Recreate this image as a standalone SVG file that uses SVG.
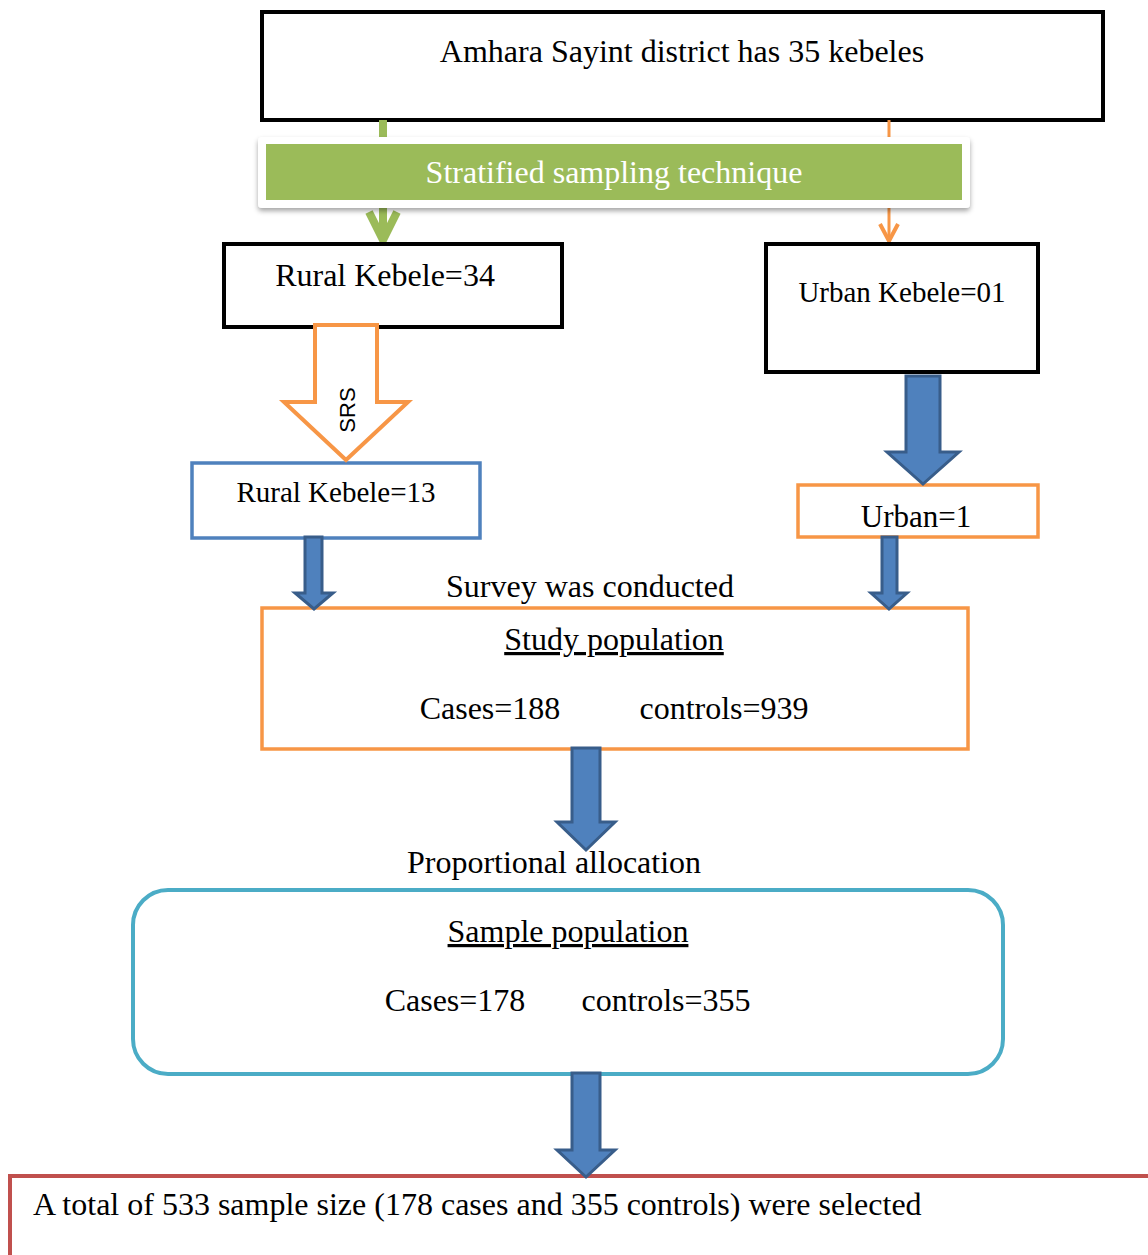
<svg xmlns="http://www.w3.org/2000/svg" width="1148" height="1255" viewBox="0 0 1148 1255">
<style>
text{font-family:"Liberation Serif","Times New Roman",serif;font-size:32px;fill:#000}
.c{text-anchor:middle}
.blk{fill:#fff;stroke:#000;stroke-width:4}
.barrow{fill:#4F81BD;stroke:#385D8A;stroke-width:3;stroke-linejoin:miter}
</style>
<defs>
<filter id="sh" x="-5%" y="-20%" width="110%" height="150%">
<feDropShadow dx="0" dy="3" stdDeviation="2.5" flood-color="#000" flood-opacity="0.35"/>
</filter>
</defs>
<rect width="1148" height="1255" fill="#fff"/>
<g id="top">
<rect class="blk" x="262" y="12" width="841" height="108"/>
<text class="c" x="682" y="62">Amhara Sayint district has 35 kebeles</text>
</g>
<g id="green-line">
<line x1="383" y1="120" x2="383" y2="238" stroke="#9BBB59" stroke-width="8"/>
<polyline points="369,212 383,240 397,212" fill="none" stroke="#9BBB59" stroke-width="8"/>
<line x1="889" y1="120" x2="889" y2="240" stroke="#F79646" stroke-width="3"/>
<polyline points="880,224 889,241 898,224" fill="none" stroke="#F79646" stroke-width="4"/>
</g>
<g id="stratified">
<rect x="258" y="137" width="712" height="71" rx="4" fill="#fff" filter="url(#sh)"/>
<rect x="266" y="144" width="696" height="56" fill="#9BBB59"/>
<text class="c" x="614" y="183" style="fill:#fff">Stratified sampling technique</text>
</g>
<g id="rural34">
<rect class="blk" x="224" y="244" width="338" height="83"/>
<text class="c" x="385" y="286">Rural Kebele=34</text>
</g>
<g id="urban01">
<rect class="blk" x="766" y="244" width="272" height="128"/>
<text class="c" x="902" y="302" style="font-size:29px">Urban Kebele=01</text>
</g>
<g id="rural13">
<rect x="192" y="463" width="288" height="75" fill="#fff" stroke="#4F81BD" stroke-width="3.5"/>
<text class="c" x="336" y="502" style="font-size:29px">Rural Kebele=13</text>
</g>
<g id="urban1">
<rect x="798" y="485" width="240" height="52" fill="#fff" stroke="#F79646" stroke-width="3.5"/>
<text class="c" x="916" y="527" style="font-size:31px">Urban=1</text>
</g>
<text class="c" x="590" y="597">Survey was conducted</text>
<g id="study">
<rect x="262" y="608" width="706" height="141" fill="#fff" stroke="#F79646" stroke-width="3.5"/>
<text class="c" x="614" y="650" text-decoration="underline">Study population</text>
<text class="c" x="490" y="719">Cases=188</text>
<text class="c" x="724" y="719">controls=939</text>
</g>
<text class="c" x="554" y="873">Proportional allocation</text>
<g id="sample">
<rect x="133" y="890" width="870" height="184" rx="35" fill="#fff" stroke="#4BACC6" stroke-width="4"/>
<text class="c" x="568" y="942" text-decoration="underline">Sample population</text>
<text class="c" x="455" y="1011">Cases=178</text>
<text class="c" x="666" y="1011">controls=355</text>
</g>
<g id="total">
<rect x="10" y="1176" width="1150" height="100" fill="#fff" stroke="#C0504D" stroke-width="4"/>
<text x="33" y="1215">A total of 533 sample size (178 cases and 355 controls) were selected</text>
</g>
<g id="connectors">
<g id="srs-arrow">
<path d="M315,325 L377,325 L377,402 L408,402 L346,460 L284,402 L315,402 Z" fill="#fff" stroke="#F79646" stroke-width="4"/>
<text x="0" y="0" transform="translate(355,410) rotate(-90)" style="font-family:'Liberation Sans',Arial,sans-serif;font-size:22px" class="c">SRS</text>
</g>
<path class="barrow" d="M906,376 L940,376 L940,452 L959,452 L923,484 L887,452 L906,452 Z"/>
<path class="barrow" d="M305,537 L322,537 L322,593 L333,593 L314,609 L295,593 L305,593 Z"/>
<path class="barrow" d="M882,537 L897,537 L897,593 L907,593 L889,609 L871,593 L882,593 Z"/>
<path class="barrow" d="M572,748 L600,748 L600,822 L615,822 L586,850 L557,822 L572,822 Z"/>
<path class="barrow" d="M572,1073 L600,1073 L600,1150 L615,1150 L586,1177 L557,1150 L572,1150 Z"/>
</g>
</svg>
